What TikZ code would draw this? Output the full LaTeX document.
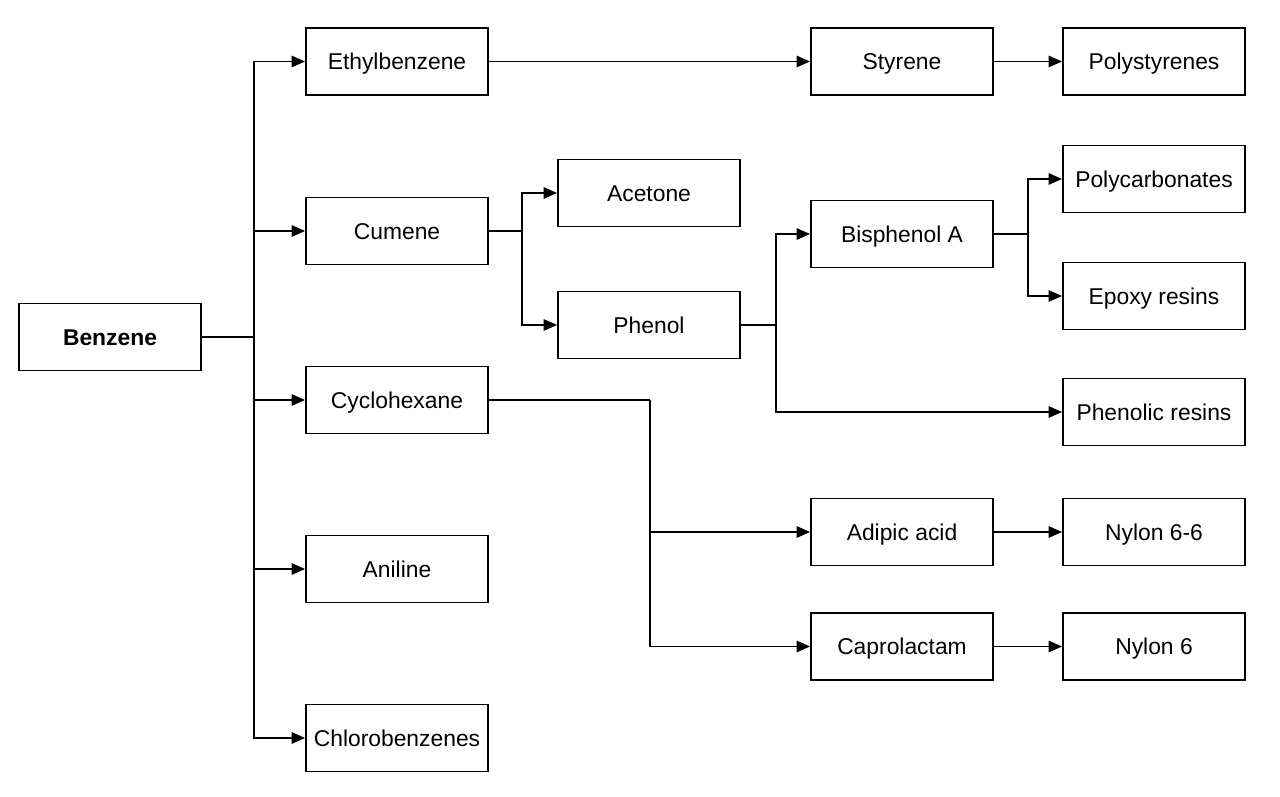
\documentclass[tikz,border=0pt]{standalone}
\usepackage{fontspec}
\setmainfont{Liberation Sans}
\usetikzlibrary{arrows.meta}

\begin{document}
\begin{tikzpicture}[
    box/.style={draw, rectangle, line width=1.1pt, minimum width=3.64cm, minimum height=1.34cm, text centered, text height=9.3pt, text depth=0pt, font=\fontsize{13}{15}\selectfont},
    link/.style={line width=0.95pt},
    arrow/.style={link, -{Triangle[length=0.27cm, width=0.23cm]}}
]
            \useasboundingbox (0,0) rectangle (25.6,-15.94);

            % Nodes
            \node[box] (benz) at (2.2,-6.74) {\textbf{Benzene}};

            \node[box] (ethyl) at (7.94,-1.23) {Ethylbenzene};
            \node[box] (cumene) at (7.94,-4.62) {Cumene};
            \node[box] (cyclo) at (7.94,-8.0) {Cyclohexane};
            \node[box] (aniline) at (7.94,-11.38) {Aniline};
            \node[box] (chloro) at (7.94,-14.76) {Chlorobenzenes};

            \node[box] (acetone) at (12.98,-3.86) {Acetone};
            \node[box] (phenol) at (12.98,-6.5) {Phenol};

            \node[box] (styrene) at (18.04,-1.23) {Styrene};
            \node[box] (bisa) at (18.04,-4.68) {Bisphenol A};
            \node[box] (adipic) at (18.04,-10.64) {Adipic acid};
            \node[box] (capro) at (18.04,-12.93) {Caprolactam};

            \node[box] (polysty) at (23.08,-1.23) {Polystyrenes};
            \node[box] (polycarb) at (23.08,-3.58) {Polycarbonates};
            \node[box] (epoxy) at (23.08,-5.92) {Epoxy resins};
            \node[box] (phenolic) at (23.08,-8.24) {Phenolic resins};
            \node[box] (nylon66) at (23.08,-10.64) {Nylon 6-6};
            \node[box] (nylon6) at (23.08,-12.93) {Nylon 6};

            % Branch points
            \coordinate (bbus) at (5.08,-6.74);
            \coordinate (cbus) at (10.44,-4.62);
            \coordinate (pbus) at (15.52,-6.5);
            \coordinate (abus) at (20.56,-4.68);
            \coordinate (xbus) at (13.0,-8.0);

            % Arrows
            \draw[link] (benz) -- (bbus);
            \draw[arrow] (bbus) |- (ethyl);
            \draw[arrow] (bbus) |- (cumene);
            \draw[arrow] (bbus) |- (cyclo);
            \draw[arrow] (bbus) |- (aniline);
            \draw[arrow] (bbus) |- (chloro);

            \draw[arrow] (ethyl) -- (styrene);
            \draw[arrow] (styrene) -- (polysty);

            \draw[link] (cumene) -- (cbus);
            \draw[arrow] (cbus) |- (acetone);
            \draw[arrow] (cbus) |- (phenol);

            \draw[link] (phenol) -- (pbus);
            \draw[arrow] (pbus) |- (bisa);
            \draw[arrow] (pbus) |- (phenolic);

            \draw[link] (bisa) -- (abus);
            \draw[arrow] (abus) |- (polycarb);
            \draw[arrow] (abus) |- (epoxy);

            \draw[link] (cyclo) -- (xbus);
            \draw[arrow] (xbus) |- (adipic);
            \draw[arrow] (xbus) |- (capro);

            \draw[arrow] (adipic) -- (nylon66);
            \draw[arrow] (capro) -- (nylon6);
        \end{tikzpicture}
\end{document}
